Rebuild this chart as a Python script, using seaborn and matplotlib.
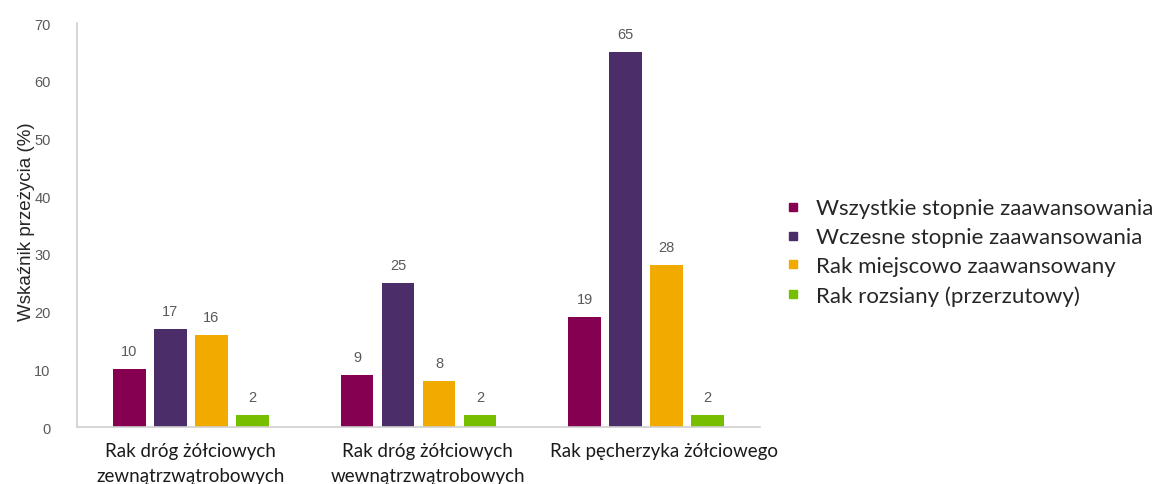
import matplotlib
matplotlib.use("Agg")
import matplotlib.pyplot as plt
import matplotlib.transforms as mtransforms
from matplotlib.lines import Line2D
import seaborn as sns
import pandas as pd

categories = [
    "Rak dróg żółciowych\nzewnątrzwątrobowych",
    "Rak dróg żółciowych\nwewnątrzwątrobowych",
    "Rak pęcherzyka żółciowego",
]
stages = [
    "Wszystkie stopnie zaawansowania",
    "Wczesne stopnie zaawansowania",
    "Rak miejscowo zaawansowany",
    "Rak rozsiany (przerzutowy)",
]
all_stages = [10, 9, 19]
early = [17, 25, 65]
local = [16, 8, 28]
metastatic = [2, 2, 2]
y_ticks = [0, 10, 20, 30, 40, 50, 60, 70]
colors = ["#850050", "#4B2D69", "#F0AA00", "#78BE00"]

rows = []
for stage, vals in zip(stages, [all_stages, early, local, metastatic]):
    for cat, v in zip(categories, vals):
        rows.append({"Kategoria": cat, "Stopień": stage, "Wartość": v})
df = pd.DataFrame(rows)

sns.set_theme(style="white")
plt.rcParams["font.family"] = ["Liberation Sans", "DejaVu Sans"]

fig = plt.figure(figsize=(11.54, 4.85), dpi=100)
ax = fig.add_axes([0.0667, 0.1175, 0.592, 0.833])

sns.barplot(
    data=df, x="Kategoria", y="Wartość", hue="Stopień",
    order=categories, hue_order=stages, palette=colors,
    width=0.72, gap=0.2, ax=ax, legend=False, saturation=1,
    linewidth=0,
)

for cont in ax.containers:
    ax.bar_label(cont, fmt="%d", padding=8, color="#595959", fontsize=10.5)

ax.set_ylim(0, 70)
ax.set_yticks(y_ticks)
ax.tick_params(axis="y", labelsize=10.5, colors="#595959", length=0, pad=19)
ax.tick_params(axis="x", length=0, pad=11)
ax.set_xticks(range(len(categories)))
ax.set_xticklabels(categories, fontsize=13.5, color="#1a1a1a",
                   family=["Lato", "DejaVu Sans"], linespacing=1.55)
# category captions drift slightly right, as in the text boxes of the source layout
for i, lbl in enumerate(ax.get_xticklabels()):
    shift = mtransforms.ScaledTranslation(0.09 * i, 0, fig.dpi_scale_trans)
    lbl.set_transform(lbl.get_transform() + shift)
ax.set_xlabel("")
ax.set_ylabel("Wskaźnik przeżycia (%)", fontsize=13.5, color="#262626")
ax.yaxis.set_label_coords(-0.062, 0.51)

for side in ["top", "right"]:
    ax.spines[side].set_visible(False)
for side in ["left", "bottom"]:
    ax.spines[side].set_color("#d0d0d0")
    ax.spines[side].set_linewidth(1.2)

handles = [Line2D([0], [0], marker="s", linestyle="", markersize=5.5,
                  markerfacecolor=c, markeredgecolor=c) for c in colors]
fig.legend(handles, stages, loc="upper left", bbox_to_anchor=(0.663, 0.63),
           frameon=False, handlelength=0.7, handletextpad=0.7,
           labelspacing=0.4, prop={"family": ["Lato", "DejaVu Sans"], "size": 16})

fig.savefig("out.png", dpi=100)
